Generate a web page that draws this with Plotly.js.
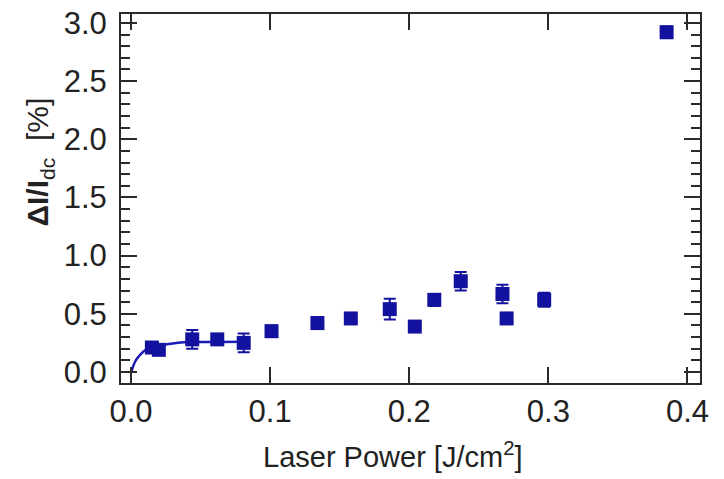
<!DOCTYPE html>
<html>
<head>
<meta charset="utf-8">
<script src="https://cdn.plot.ly/plotly-3.0.1.min.js"></script>
<style>
  html, body { margin: 0; padding: 0; background: #fff; }
  #chart { width: 724px; height: 479px; }
</style>
</head>
<body>
<div id="chart"></div>
<script>
// Measured modulation vs. laser fluence
const laserPower = [0.015, 0.020, 0.044, 0.062, 0.081, 0.101, 0.134, 0.158, 0.186, 0.204, 0.218, 0.237, 0.267, 0.270, 0.297, 0.385];
const modulation = [0.21, 0.19, 0.28, 0.28, 0.25, 0.35, 0.42, 0.46, 0.54, 0.39, 0.62, 0.78, 0.67, 0.46, 0.62, 2.92];
const modulationErr = [0.04, 0.04, 0.08, 0.04, 0.08, 0.05, 0.05, 0.04, 0.09, 0.04, 0.05, 0.08, 0.08, 0.04, 0.06, 0.05];

// Saturation fit curve through the low-fluence points
const fitPower = [0.0005, 0.003, 0.0065, 0.011, 0.016, 0.026, 0.038, 0.060, 0.085];
const fitModulation = [0.01, 0.09, 0.146, 0.195, 0.22, 0.238, 0.255, 0.258, 0.26];

const xTicks = [0.0, 0.1, 0.2, 0.3, 0.4];
const xTickLabels = ['0.0', '0.1', '0.2', '0.3', '0.4'];
const yTicks = [0.0, 0.5, 1.0, 1.5, 2.0, 2.5, 3.0];
const yTickLabels = ['0.0', '0.5', '1.0', '1.5', '2.0', '2.5', '3.0'];

const markColor = '#12129e';
const axisColor = '#2a2a2a';
const font = 'Liberation Sans, Arial, Helvetica, sans-serif';

const traces = [
  {
    x: fitPower, y: fitModulation,
    type: 'scatter', mode: 'lines',
    line: { color: '#1c1cb8', width: 2.5, shape: 'spline' },
    hoverinfo: 'skip'
  },
  {
    x: laserPower, y: modulation,
    type: 'scatter', mode: 'markers',
    marker: { symbol: 'square', size: 14, color: markColor },
    error_y: { type: 'data', array: modulationErr, visible: true, color: markColor, thickness: 2, width: 6 }
  }
];

const axisCommon = {
  showline: true, linecolor: axisColor, linewidth: 2,
  mirror: 'allticks', ticks: 'inside', ticklen: 16, tickwidth: 2, tickcolor: axisColor,
  showgrid: false, zeroline: false,
  tickfont: { family: font, size: 31, color: '#222' }
};

const layout = {
  width: 724, height: 479,
  margin: { l: 121, r: 24, t: 14, b: 96 },
  paper_bgcolor: '#fff', plot_bgcolor: '#fff',
  showlegend: false,
  xaxis: Object.assign({}, axisCommon, {
    range: [-0.0072, 0.409],
    tickmode: 'array', tickvals: xTicks, ticktext: xTickLabels,
    ticklabelstandoff: 0
  }),
  yaxis: Object.assign({}, axisCommon, {
    range: [-0.095, 3.077],
    tickmode: 'array', tickvals: yTicks, ticktext: yTickLabels,
    ticklabelstandoff: 6,
    minor: { dtick: 0.1, ticks: 'inside', ticklen: 9, tickwidth: 2, tickcolor: axisColor, showgrid: false }
  }),
  annotations: [
    {
      text: '<b>ΔI/I</b><sub>dc</sub>  [%]',
      xref: 'paper', yref: 'paper',
      x: -0.14, y: 0.6, xanchor: 'center', yanchor: 'middle',
      textangle: -90, showarrow: false,
      font: { family: font, size: 30, color: '#222' }
    },
    {
      text: 'Laser Power [J/cm<sup>2</sup>]',
      xref: 'paper', yref: 'paper',
      x: (392 - 121) / 579, y: -(455 - 383) / 369, xanchor: 'center', yanchor: 'middle',
      showarrow: false,
      font: { family: font, size: 29, color: '#222' }
    }
  ]
};

Plotly.newPlot('chart', traces, layout, { displayModeBar: false, staticPlot: true });
</script>
</body>
</html>
